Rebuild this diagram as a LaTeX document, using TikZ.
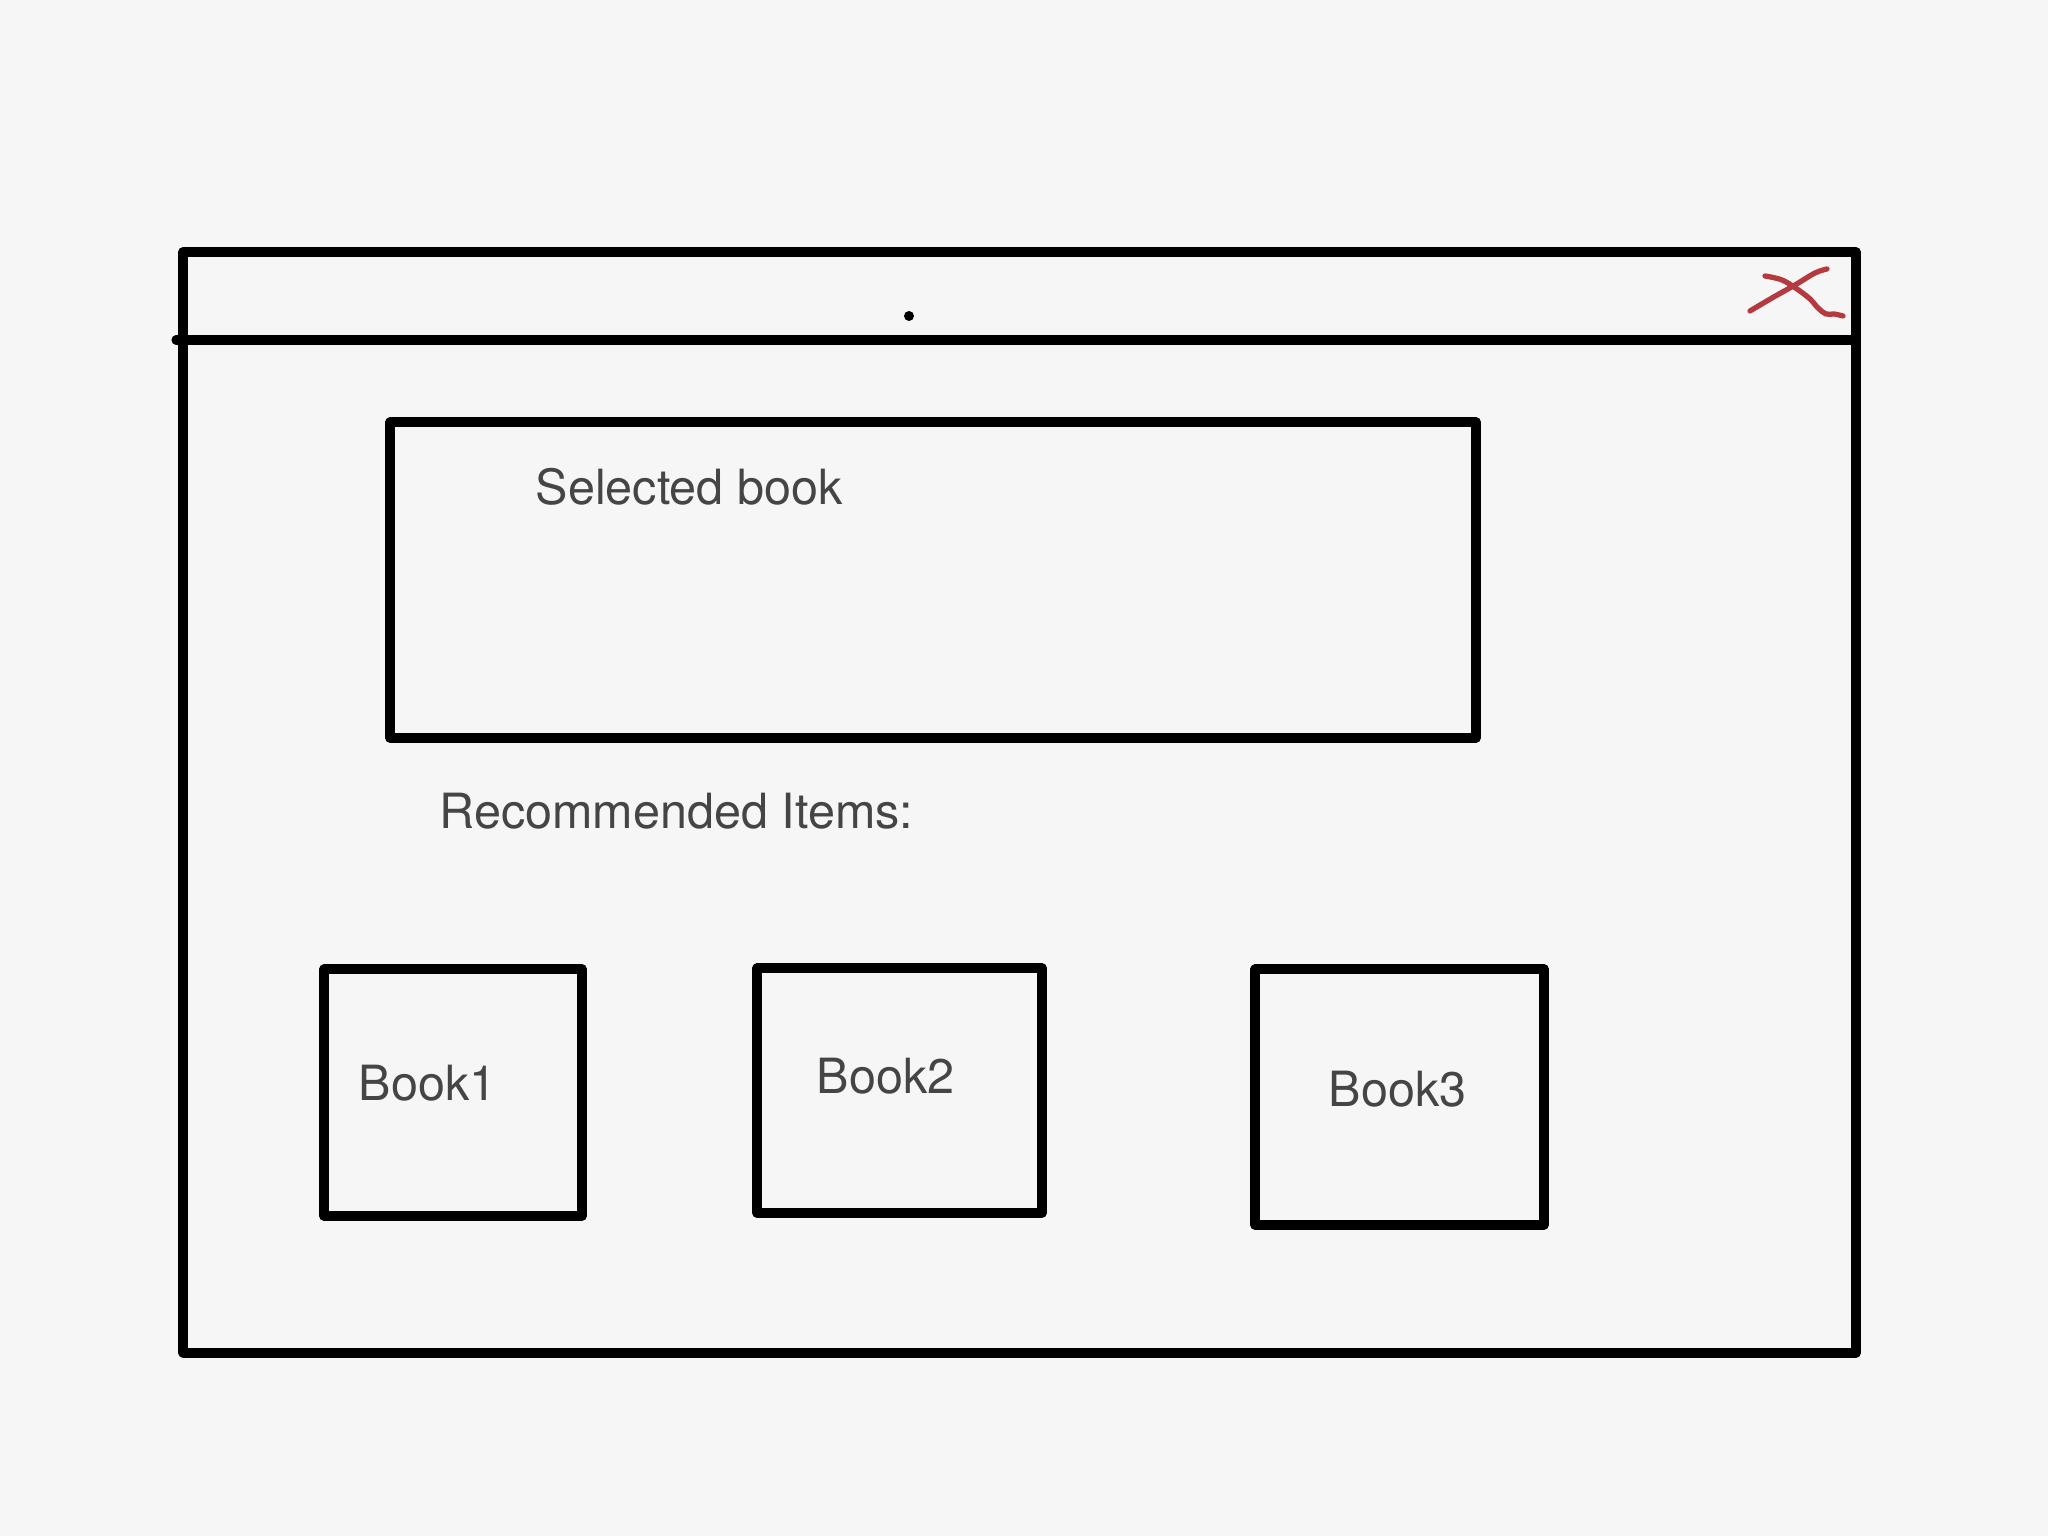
\documentclass[tikz,border=0pt]{standalone}
\usepackage{fontspec}
\setmainfont{TeX Gyre Heros}
\usepackage{tikz}
\definecolor{paper}{HTML}{F6F6F6}
\definecolor{inkgray}{HTML}{454545}
\definecolor{penred}{HTML}{B53A40}
\tikzset{frame/.style={line width=2.6pt, line join=round, line cap=round},
         pen/.style={penred, line width=1.5pt, line cap=round, line join=round},
         label/.style={inkgray, anchor=west, inner sep=0pt, font=\fontsize{13.8}{16}\selectfont}}

\begin{document}
\begin{tikzpicture}[x=0.01cm, y=0.01cm]
\fill[paper] (0,0) rectangle (2048,1536);
\draw[frame] (183,183) -- (183,1284) -- (1856,1284) -- (1856,183) -- (183,183);
\draw[frame] (176,1196) -- (1856,1196);
\fill[black] (909,1220) circle (5);
\draw[pen] plot[smooth, tension=0.6] coordinates {(1750,1225) (1772,1238) (1795,1251) (1815,1263) (1827,1267)};
\draw[pen] plot[smooth, tension=0.6] coordinates {(1765,1260) (1782,1256) (1797,1247) (1810,1237) (1818,1228) (1826,1222) (1834,1222) (1843,1220)};
\draw[frame] (390,1114) -- (1476,1114) -- (1476,798) -- (390,798) -- (390,1114);
\node[label] (selected) at (535,1049) {Selected book};
\node[label] (recommended) at (439,725) {Recommended Items:};
\draw[frame] (324,567) -- (582,567) -- (582,320) -- (324,320) -- (324,567);
\node[label] (book1) at (358,453) {Book1};
\draw[frame] (757,568) -- (1042,568) -- (1042,323) -- (757,323) -- (757,568);
\node[label] (book2) at (816,460) {Book2};
\draw[frame] (1255,567) -- (1544,567) -- (1544,311) -- (1255,311) -- (1255,567);
\node[label] (book3) at (1328,447) {Book3};
\end{tikzpicture}
\end{document}
